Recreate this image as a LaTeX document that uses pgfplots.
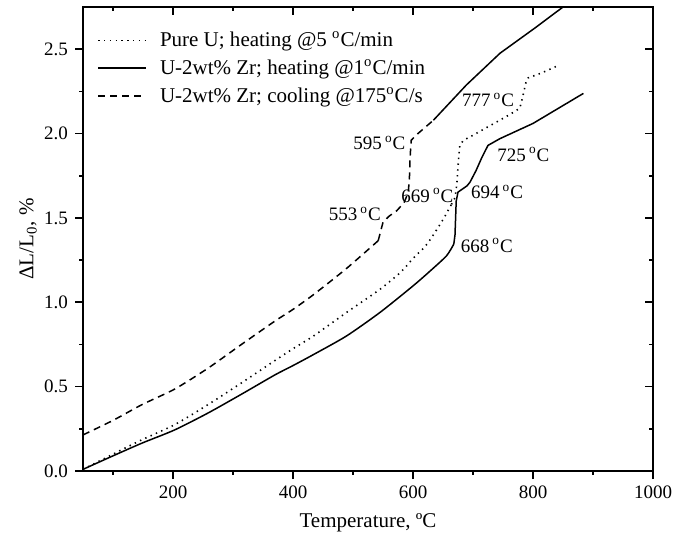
\documentclass[border=0pt]{standalone}
\usepackage{fontspec}
\setmainfont{Liberation Serif}
\usepackage{pgfplots}
\pgfplotsset{compat=1.18}

\begin{document}
\begin{tikzpicture}[font=\fontsize{10.5}{12.6}\selectfont,
  ann/.style={font=\fontsize{9.5}{11}\selectfont}]
\pgfplotsset{
  myframe/.style={
    scale only axis, width=285pt, height=232pt,
    xmin=50, xmax=1000, ymin=0, ymax=2.75,
    xtick={200,400,600,800,1000}, minor xtick={100,300,500,700,900},
    ytick={0,0.5,1,1.5,2,2.5}, minor ytick={0.25,0.75,1.25,1.75,2.25},
    axis line style={line width=0.9pt},
    major tick length=4pt, minor tick length=1.8pt,
    every tick/.style={black, line width=0.8pt},
    tick label style={font=\fontsize{9.5}{11}\selectfont},
  }
}
% top and right ticks point inwards
\begin{axis}[myframe, xtick pos=right, ytick pos=right, tick align=inside,
  xticklabels={}, yticklabels={}]
\end{axis}
\begin{axis}[myframe,
  xtick pos=left, ytick pos=left, tick align=outside,
  /pgf/number format/assume math mode=true,
  xticklabel style={/pgf/number format/set thousands separator={}},
  yticklabel style={/pgf/number format/.cd, fixed, fixed zerofill, precision=1},
  xlabel={Temperature, ºC},
  ylabel={ΔL/L\textsubscript{0}, \%},
  xlabel style={at={(rel axis cs:0.5,0)}, anchor=center, yshift=-26pt},
  ylabel style={at={(rel axis cs:0,0.5)}, anchor=center, yshift=27.5pt},
  legend style={draw=none, fill=none, at={(rel axis cs:0,1)}, xshift=4pt, yshift=-8.5pt,
    anchor=north west, row sep=2pt, column sep=5pt, cells={anchor=west},
    nodes={inner sep=1.5pt}},
  legend image code/.code={\draw[#1] (0pt,0pt) -- (24pt,0pt);},
]
% pure U, heating 5 C/min
\addplot[black, line width=0.8pt, dash pattern=on 0.7pt off 2.2pt, smooth, tension=0.4] coordinates {
(50,0.01) (100,0.10) (148,0.185) (203,0.275) (259,0.395) (314,0.522) (370,0.655)
(400,0.725) (434,0.80) (489,0.939) (545,1.077) (580,1.18) (600,1.26) (620,1.33)
(634,1.40) (650,1.49) (664,1.58)};
\addplot[black, line width=0.8pt, dash pattern=on 0.7pt off 2.2pt, forget plot] coordinates {
(664,1.58) (670,1.62) (673,1.70) (676,1.85) (678,1.93)
(684,1.96) (700,1.99) (730,2.05) (760,2.11) (778,2.15) (783,2.22) (788,2.30)
(792,2.33) (815,2.36) (840,2.40)};
% U-2wt% Zr, heating 1 C/min
\addplot[black, line width=0.75pt, smooth, tension=0.4] coordinates {
(50,0.01) (100,0.09) (148,0.165) (203,0.244) (259,0.345) (314,0.455) (370,0.57)
(400,0.625) (434,0.69) (489,0.80) (545,0.94) (600,1.097) (630,1.19) (656,1.276)
(668,1.345)};
\addplot[black, line width=0.75pt, forget plot] coordinates {
(668,1.345) (670,1.40) (671,1.50) (672,1.60) (675,1.653) (690,1.69) (695,1.712)
(705,1.78) (715,1.86) (725,1.93) (745,1.97) (800,2.06) (884,2.238)};
% U-2wt% Zr, cooling 175 C/s
\addplot[black, line width=0.75pt, dash pattern=on 3.5pt off 2.5pt, smooth, tension=0.4] coordinates {
(50,0.214) (100,0.30) (148,0.393) (203,0.486) (259,0.611) (314,0.75) (370,0.889)
(400,0.958) (434,1.045) (489,1.20) (542,1.365)};
\addplot[black, line width=0.75pt, dash pattern=on 3.5pt off 2.5pt, forget plot] coordinates {
(542,1.365) (546,1.42) (550,1.474) (560,1.51)
(573,1.543) (585,1.59) (592,1.65) (594,1.73) (595,1.85) (597,1.96) (605,1.99)
(634,2.079)};
\addplot[black, line width=0.75pt, forget plot] coordinates {
(634,2.079) (689,2.288) (745,2.476) (803,2.625) (850,2.75)};
\legend{Pure U; heating @5 \textsuperscript{o}C/min,
  U-2wt\% Zr; heating @1\textsuperscript{o}C/min,
  U-2wt\% Zr; cooling @175\textsuperscript{o}C/s}
\node[ann] at (axis cs:725,2.20) {777\,\textsuperscript{o}C};
\node[ann] at (axis cs:784,1.875) {725\,\textsuperscript{o}C};
\node[ann] at (axis cs:740,1.653) {694\,\textsuperscript{o}C};
\node[ann] at (axis cs:624,1.633) {669\,\textsuperscript{o}C};
\node[ann] at (axis cs:544,1.944) {595\,\textsuperscript{o}C};
\node[ann] at (axis cs:503,1.524) {553\,\textsuperscript{o}C};
\node[ann] at (axis cs:723,1.336) {668\,\textsuperscript{o}C};
\path (rel axis cs:0,0) ++(-41.5pt,-34pt) coordinate (bl);
\path (rel axis cs:1,1) ++(10pt,3.5pt) coordinate (tr);
\end{axis}
\pgfresetboundingbox
\useasboundingbox (bl) rectangle (tr);
\end{tikzpicture}
\end{document}
